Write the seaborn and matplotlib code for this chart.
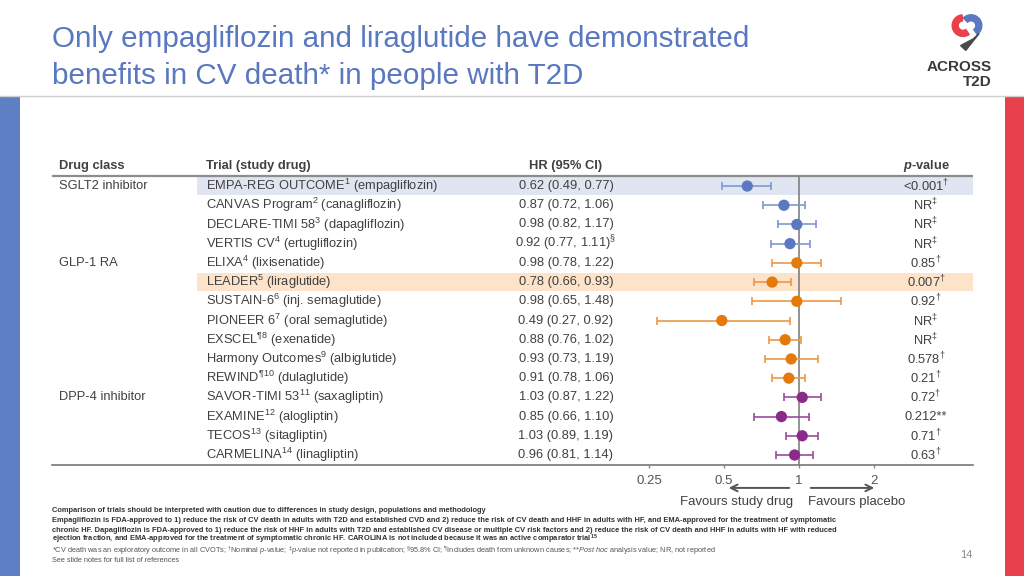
import numpy as np
import pandas as pd
import matplotlib
matplotlib.use('Agg')
import matplotlib.pyplot as plt
import matplotlib.transforms as mtransforms
from matplotlib.patches import Rectangle, Wedge, Polygon
import seaborn as sns

# Data

drug_class = ['SGLT2 inhibitor'] * 4 + ['GLP-1 RA'] * 7 + ['DPP-4 inhibitor'] * 4
trial = ['EMPA-REG OUTCOME', 'CANVAS Program', 'DECLARE-TIMI 58', 'VERTIS CV', 'ELIXA', 'LEADER',
         'SUSTAIN-6', 'PIONEER 6', 'EXSCEL', 'Harmony Outcomes', 'REWIND', 'SAVOR-TIMI 53',
         'EXAMINE', 'TECOS', 'CARMELINA']
trial_ref = ['1', '2', '3', '4', '4', '5', '6', '7', '¶8', '9', '¶10', '11', '12', '13', '14']
study_drug = ['empagliflozin', 'canagliflozin', 'dapagliflozin', 'ertugliflozin', 'lixisenatide',
              'liraglutide', 'inj. semaglutide', 'oral semaglutide', 'exenatide', 'albiglutide',
              'dulaglutide', 'saxagliptin', 'alogliptin', 'sitagliptin', 'linagliptin']
hr = [0.62, 0.87, 0.98, 0.92, 0.98, 0.78, 0.98, 0.49, 0.88, 0.93, 0.91, 1.03, 0.85, 1.03, 0.96]
ci_low = [0.49, 0.72, 0.82, 0.77, 0.78, 0.66, 0.65, 0.27, 0.76, 0.73, 0.78, 0.87, 0.66, 0.89, 0.81]
ci_high = [0.77, 1.06, 1.17, 1.11, 1.22, 0.93, 1.48, 0.92, 1.02, 1.19, 1.06, 1.22, 1.10, 1.19, 1.14]
hr_note = ['', '', '', '§', '', '', '', '', '', '', '', '', '', '', '']
p_value = ['<0.001', 'NR', 'NR', 'NR', '0.85', '0.007', '0.92', 'NR', 'NR', '0.578', '0.21',
           '0.72', '0.212', '0.71', '0.63']
p_note = ['†', '‡', '‡', '‡', '†', '†', '†', '‡', '‡', '†', '†', '†', '**', '†', '†']
highlight = {'EMPA-REG OUTCOME': '#dfe5f1', 'LEADER': '#fde3ca'}
class_labels = ['SGLT2 inhibitor', 'GLP-1 RA', 'DPP-4 inhibitor']

# Setup

sns.set_theme(style='white')
plt.rcParams['font.family'] = ['Liberation Sans', 'DejaVu Sans']
plt.rcParams['mathtext.fontset'] = 'custom'
plt.rcParams['mathtext.rm'] = 'Liberation Sans'
plt.rcParams['mathtext.it'] = 'Liberation Sans:italic'
plt.rcParams['mathtext.bf'] = 'Liberation Sans:bold'
plt.rcParams['mathtext.bfit'] = 'Liberation Sans:italic:bold'
plt.rcParams['mathtext.default'] = 'regular'

marker_col = {'SGLT2 inhibitor': '#5b78c0', 'GLP-1 RA': '#e57a0c', 'DPP-4 inhibitor': '#8b2a8a'}
bar_col = {'SGLT2 inhibitor': '#7f98d3', 'GLP-1 RA': '#eb9848', 'DPP-4 inhibitor': '#9c4a9c'}
txt = '#404040'

df = pd.DataFrame({'cls': drug_class, 'trial': trial, 'hr': hr, 'lo': ci_low, 'hi': ci_high})
df['row'] = np.arange(len(df))

W, H = 1024, 576
fx = lambda px: px / W
fy = lambda py: 1 - py / H

fig = plt.figure(figsize=(10.24, 5.76), dpi=100)
fig.patch.set_facecolor('white')

# slide decoration
fig.add_artist(plt.Line2D([0, 1], [fy(96), fy(96)], color='#cfcfcf', lw=1))
fig.add_artist(Rectangle((0, 0), fx(20), fy(97), color='#5f7fc4', lw=0))
fig.add_artist(Rectangle((fx(1005), 0), fx(19), fy(97), color='#e8414b', lw=0))
fig.text(fx(52), fy(39), 'Only empagliflozin and liraglutide have demonstrated', color='#5a78c0',
         fontsize=21.3, va='center', ha='left')
fig.text(fx(52), fy(76), 'benefits in CV death* in people with T2D', color='#5a78c0',
         fontsize=21.3, va='center', ha='left')

# logo
lax = fig.add_axes([fx(946), fy(52), fx(42), 40 / H])
lax.set_xlim(0, 1)
lax.set_ylim(0, 1)
lax.set_aspect('equal')
lax.axis('off')
lax.add_patch(Wedge((0.4, 0.66), 0.27, 95, 305, width=0.15, color='#e8414b'))
lax.add_patch(Wedge((0.6, 0.66), 0.27, -55, 135, width=0.15, color='#5b78c0'))
lax.add_patch(Polygon([[0.66, 0.33], [0.8, 0.46], [0.47, 0.04], [0.34, 0.16]], closed=True,
                      color='#4a4a4a'))
fig.text(fx(992), fy(67), 'ACROSS', fontsize=11, fontweight='bold', color='#3a3a3a',
         ha='right', va='center')
fig.text(fx(992), fy(82), 'T2D', fontsize=11, fontweight='bold', color='#3a3a3a',
         ha='right', va='center')

# forest axes
ax = fig.add_axes([fx(52), fy(465), fx(973 - 52), (465 - 155.3) / H])
ax.set_xscale('log', base=2)

for name, col in highlight.items():
    r = df.loc[df['trial'] == name, 'row'].iloc[0]
    ax.axhspan(r - 0.47, r + 0.47, xmin=(197 - 52) / 921, xmax=1, color=col, lw=0, zorder=0)

ax.axhline(-0.5, color='#8c8c8c', lw=1.6, zorder=1)
ax.axvline(1, 0, 0.929, color='#808080', lw=1.2, zorder=1)

for cls in class_labels:
    sub = df[df['cls'] == cls]
    ax.errorbar(sub['hr'], sub['row'], xerr=[sub['hr'] - sub['lo'], sub['hi'] - sub['hr']],
                fmt='none', ecolor=bar_col[cls], elinewidth=1.2, capsize=3, capthick=1.2, zorder=2)
sns.scatterplot(data=df, x='hr', y='row', hue='cls', palette=marker_col, s=66, edgecolor='none',
                legend=False, zorder=3, ax=ax)

ax.set_xlim(2 ** -9.96, 2 ** 2.32)
ax.set_ylim(14.52, -1.6)
ax.set_xticks([0.25, 0.5, 1, 2])
ax.set_xticklabels(['0.25', '0.5', '1', '2'])
ax.minorticks_off()
ax.set_yticks([])
ax.set_xlabel('')
ax.set_ylabel('')
ax.tick_params(axis='x', bottom=True, length=2.5, width=1, color='#888888', labelsize=9.5,
               labelcolor='#555555', pad=4.5)
for s in ['left', 'top', 'right']:
    ax.spines[s].set_visible(False)
ax.spines['bottom'].set_color('#777777')
ax.spines['bottom'].set_linewidth(1.2)
ax.set_facecolor('none')

# table text
tr = mtransforms.blended_transform_factory(fig.transFigure, ax.transData)
hy = -1.05
fs = 9.3
ax.text(fx(59), hy, 'Drug class', transform=tr, fontsize=fs, fontweight='bold', color=txt,
        ha='left', va='center')
ax.text(fx(206), hy, 'Trial (study drug)', transform=tr, fontsize=fs, fontweight='bold',
        color=txt, ha='left', va='center')
ax.text(fx(566), hy, 'HR (95% CI)', transform=tr, fontsize=fs, fontweight='bold', color=txt,
        ha='center', va='center')
ax.text(fx(926), hy, r'$\mathbfit{p}$-value', transform=tr, fontsize=fs, fontweight='bold',
        color=txt, ha='center', va='center')

shown = set()
for i, row in df.iterrows():
    y = row['row']
    if row['cls'] not in shown:
        shown.add(row['cls'])
        ax.text(fx(59), y, row['cls'], transform=tr, fontsize=fs, color=txt, ha='left',
                va='center')
    ax.text(fx(206), y, f"{trial[i]}$^{{{trial_ref[i]}}}$ ({study_drug[i]})", transform=tr,
            fontsize=fs, color=txt, ha='left', va='center')
    hr_txt = f"{hr[i]:.2f} ({ci_low[i]:.2f}, {ci_high[i]:.2f})"
    if hr_note[i]:
        hr_txt += f"$^{{{hr_note[i]}}}$"
    ax.text(fx(566), y, hr_txt, transform=tr, fontsize=fs, color=txt, ha='center', va='center')
    if p_note[i] == '**':
        p_txt = p_value[i] + '**'
    else:
        p_txt = f"{p_value[i]}$^{{{p_note[i]}}}$"
    ax.text(fx(926), y, p_txt, transform=tr, fontsize=fs, color=txt, ha='center', va='center')

# favours arrows
ax.annotate('', xy=(0.509, -0.074), xytext=(0.937, -0.074), xycoords=('data', 'axes fraction'),
            arrowprops=dict(arrowstyle='->', color='#555555', lw=1.4))
ax.annotate('', xy=(2.056, -0.074), xytext=(1.087, -0.074), xycoords=('data', 'axes fraction'),
            arrowprops=dict(arrowstyle='->', color='#555555', lw=1.4))
fig.text(fx(793), fy(502), 'Favours study drug', fontsize=9.5, color=txt, ha='right', va='center')
fig.text(fx(808), fy(502), 'Favours placebo', fontsize=9.5, color=txt, ha='left', va='center')

# footnotes
foot_bold = [
    'Comparison of trials should be interpreted with caution due to differences in study design, '
    'populations and methodology',
    'Empagliflozin is FDA-approved to 1) reduce the risk of CV death in adults with T2D and established '
    'CVD and 2) reduce the risk of CV death and HHF in adults with HF, and EMA-approved for the '
    'treatment of symptomatic',
    'chronic HF. Dapagliflozin is FDA-approved to 1) reduce the risk of HHF in adults with T2D and '
    'established CV disease or multiple CV risk factors and 2) reduce the risk of CV death and HHF in '
    'adults with HF with reduced',
    'ejection fraction, and EMA-approved for the treatment of symptomatic chronic HF. CAROLINA is not '
    'included because it was an active comparator trial$^{15}$',
]
foot_plain = [
    r'*CV death was an exploratory outcome in all CVOTs; $^{†}$Nominal $\mathit{p}$-value; '
    r'$^{‡}\mathit{p}$-value not reported in publication; $^{§}$95.8% CI; $^{¶}$Includes death from '
    r'unknown causes; **$\mathit{Post\ hoc}$ analysis value; NR, not reported',
    'See slide notes for full list of references',
]
foot_y = [510.5, 520.5, 530, 539.5]
for k, line in enumerate(foot_bold):
    fig.text(fx(52), fy(foot_y[k]), line, fontsize=5.37, fontweight='bold', color='#333333',
             ha='left', va='center')
for k, line in enumerate(foot_plain):
    fig.text(fx(52), fy(551 + k * 9), line, fontsize=5.35, color='#555555', ha='left',
             va='center')
fig.text(fx(966), fy(555), '14', fontsize=8, color='#8a8a8a', ha='center', va='center')

fig.savefig('out.png', dpi=100)
